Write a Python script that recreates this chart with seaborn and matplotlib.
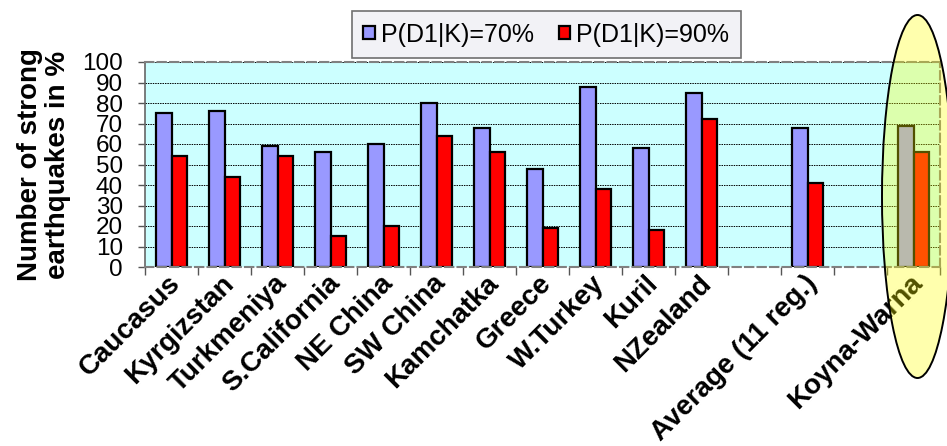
import matplotlib
matplotlib.use("Agg")
import matplotlib.pyplot as plt
import matplotlib.transforms as mtransforms
from matplotlib.patches import Ellipse
import numpy as np
import pandas as pd
import seaborn as sns

# Share of strong earthquakes predicted, per region, for two probability thresholds
regions = ["Caucasus", "Kyrgizstan", "Turkmeniya", "S.California", "NE China",
           "SW China", "Kamchatka", "Greece", "W.Turkey", "Kuril", "NZealand",
           "Average (11 reg.)", "Koyna-Warna"]
p70 = [75, 76, 59, 56, 60, 80, 68, 48, 88, 58, 85, 68, 69]
p90 = [54, 44, 54, 15, 20, 64, 56, 19, 38, 18, 72, 41, 56]
series = ["P(D1|K)=70%", "P(D1|K)=90%"]
colors = ["#9999FF", "#FF0000"]

# x slots: blank slots separate the regional bars, the average and Koyna-Warna
slots = regions[:11] + [" "] + ["Average (11 reg.)"] + ["  "] + ["Koyna-Warna"]

df = pd.DataFrame({
    "region": regions * 2,
    "series": [series[0]] * len(regions) + [series[1]] * len(regions),
    "value": p70 + p90,
})

plt.rcParams["font.family"] = ["Liberation Sans", "DejaVu Sans"]

W, H = 947, 446
fig = plt.figure(figsize=(W / 100, H / 100), dpi=100)
fig.patch.set_facecolor("white")
ax = fig.add_axes([145 / W, 1 - 267 / H, (940 - 145) / W, (267 - 62) / H])

sns.barplot(data=df, x="region", y="value", hue="series", order=slots,
            hue_order=series, palette=colors, saturation=1, width=0.58,
            edgecolor="black", linewidth=1.6, ax=ax)

ax.set_xlim(-0.5, len(slots) - 0.5)
ax.set_ylim(0, 100)
ax.set_facecolor("#CCFFFF")
ax.set_axisbelow(True)

# y axis
ax.set_yticks(np.arange(0, 101, 10))
ax.yaxis.grid(True, color="black", linestyle=(0, (1.5, 1.0)), linewidth=0.7)
ax.xaxis.grid(False)
ax.tick_params(axis="y", direction="out", length=5, width=1, color="#555555",
               labelsize=17.5, pad=11)
ax.set_ylabel("Number of strong\nearthquakes in %", fontsize=20,
              fontweight="bold", linespacing=1.12, labelpad=8)

# x axis: tick marks between categories, labels at category centres
ax.set_xticks(range(len(slots)))
ax.set_xticks(np.arange(-0.5, len(slots), 1.0), minor=True)
ax.tick_params(axis="x", which="major", length=0, pad=9)
ax.tick_params(axis="x", which="minor", direction="out", length=6, width=1,
               color="#555555")
ax.set_xticklabels(slots, rotation=45, ha="right", va="center",
                   rotation_mode="anchor", fontsize=20, fontweight="bold")
offset = mtransforms.ScaledTranslation(4 / 72, 0, fig.dpi_scale_trans)
for lbl in ax.get_xticklabels():
    lbl.set_transform(lbl.get_transform() + offset)
ax.set_xlabel("")

# plot-area border
for side in ["top", "right", "bottom"]:
    ax.spines[side].set_visible(True)
    ax.spines[side].set_color("#808080")
    ax.spines[side].set_linewidth(1.5)
    ax.spines[side].set_linestyle((0, (4, 2)))
ax.spines["left"].set_color("#666666")
ax.spines["left"].set_linewidth(1.2)

# legend above the plot area
handles, labels = ax.get_legend_handles_labels()
if ax.get_legend() is not None:
    ax.get_legend().remove()
leg = ax.legend(handles, labels, loc="lower center", bbox_to_anchor=(0.505, 1.02),
                ncol=2, fontsize=18, frameon=True, fancybox=False,
                facecolor="#F2F2F6", edgecolor="#707070", framealpha=1,
                handlelength=0.45, handleheight=0.45, handletextpad=0.25,
                columnspacing=1.0, borderpad=0.45, borderaxespad=0)
leg.get_frame().set_linewidth(1.2)
for h in leg.legend_handles:
    h.set_edgecolor("black")
    h.set_linewidth(1.6)

# highlight ellipse around the Koyna-Warna group
ell = Ellipse((917.5 / W, 1 - 196.5 / H), 71 / W, 363 / H,
              transform=fig.transFigure, facecolor=(1, 1, 0, 0.32),
              edgecolor="black", linewidth=1.4, zorder=5)
fig.add_artist(ell)

fig.savefig("out.png", dpi=100)
